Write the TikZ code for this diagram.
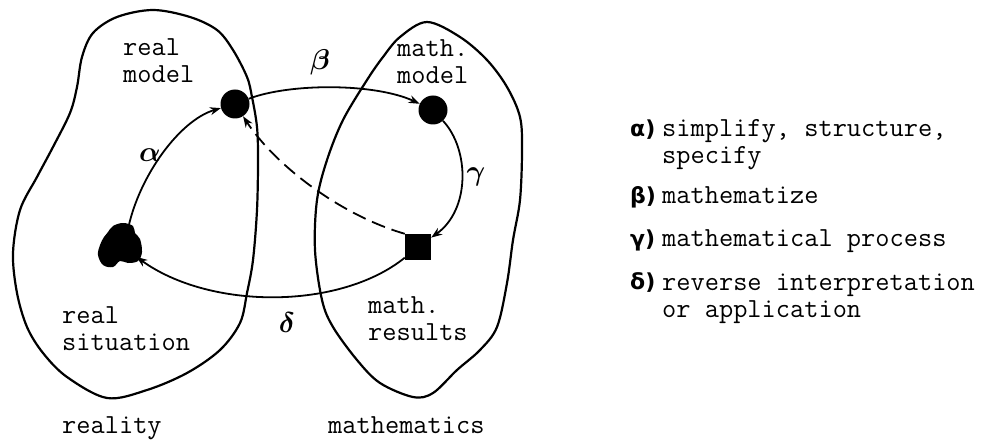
\documentclass[tikz,border=0pt]{standalone}
\usepackage{fontspec}
\newfontfamily\keyfont{DejaVu Sans}
\usetikzlibrary{arrows.meta,shapes,positioning}

\tikzset{
  region/.style={line width=2.2pt, line join=round},
  link/.style={line width=1.8pt, -{Stealth[length=11pt,width=8pt]}},
  dashlink/.style={link, dash pattern=on 14pt off 7pt},
  dot/.style={circle, fill, inner sep=0pt, minimum size=29pt},
  sqnode/.style={rectangle, fill, inner sep=0pt, minimum size=26pt},
  txt/.style={font=\ttfamily\fontsize{27.6}{27}\selectfont, align=left, inner sep=0pt, anchor=base west},
  greek/.style={font=\Huge\boldmath, inner sep=0pt, scale=1.15},
  keylbl/.style={font=\keyfont\bfseries\fontsize{22}{22}\selectfont, inner sep=0pt, anchor=base west},
}

\begin{document}
\begin{tikzpicture}[x=1pt,y=1pt]
  \useasboundingbox (0,0) rectangle (987,445);

  % reality and mathematics
  \draw[region] plot[smooth cycle, tension=0.55] coordinates {
    (153,435) (190,428) (217,415) (233,395) (247,368) (252,348) (257,318)
    (258,285) (257,235) (253,185) (247,152) (240,122) (220,95) (187,72)
    (147,55) (107,47) (67,68) (43,92) (27,118) (17,152) (13,192) (20,235)
    (37,268) (53,298) (70,332) (77,358) (82,388) (93,412) (117,428)};
  \draw[region] plot[smooth cycle, tension=0.55] coordinates {
    (427,423) (460,408) (487,385) (507,358) (520,328) (522,295) (520,245)
    (513,205) (507,162) (497,118) (480,95) (457,75) (433,52) (413,48)
    (380,62) (357,85) (333,118) (322,145) (315,195) (317,245) (327,285)
    (343,325) (367,365) (383,388) (400,408)};

  % stations
  \node[dot] (realmodel) at (235,341) {};
  \node[dot] (mathmodel) at (433,335) {};
  \node[sqnode] (mathres) at (418,198) {};
  \node[circle, inner sep=0pt, minimum size=40pt] (realsit) at (120,200) {};
  \fill plot[smooth cycle, tension=0.6] coordinates {
    (113,219) (123,222) (133,219) (135,212) (140,206) (142,193) (138,184)
    (128,182) (120,184) (113,178) (103,180) (98,190) (100,200) (104,208)
    (108,213)};

  % cycle
  \draw[link] (realsit.65) .. controls (140,270) and (180,325) .. (realmodel);
  \draw[link] (realmodel) .. controls (290,362) and (375,362) .. (mathmodel);
  \draw[link] (mathmodel) .. controls (470,295) and (470,235) .. (mathres);
  \draw[link] (mathres) .. controls (340,135) and (210,135) .. (realsit);
  \draw[dashlink] (mathres.north west) .. controls (340,230) and (275,280) .. (realmodel);

  \node[greek] (alpha) at (150,290) {$\alpha$};
  \node[greek] (beta) at (320,383) {$\beta$};
  \node[greek] (gamma) at (476,268) {$\gamma$};
  \node[greek] (delta) at (287,122) {$\delta$};

  % labels
  \node[txt] (rmlbl) at (123,362) {real\\model};
  \node[txt] (mmlbl) at (397,361) {math.\\model};
  \node[txt] (rslbl) at (62,95) {real\\situation};
  \node[txt] (mrlbl) at (368,105) {math.\\results};
  \node[txt] (reality) at (62,12) {reality};
  \node[txt] (maths) at (328,12) {mathematics};

  % legend
  \node[keylbl] (ka) at (630,308) {α)};
  \node[txt] (ta) at (662,281) {simplify, structure,\\specify};
  \node[keylbl] (kb) at (630,241) {β)};
  \node[txt] (tb) at (662,241) {mathematize};
  \node[keylbl] (kc) at (630,199) {γ)};
  \node[txt] (tc) at (662,199) {mathematical process};
  \node[keylbl] (kd) at (630,156) {δ)};
  \node[txt] (td) at (662,128) {reverse interpretation\\or application};
\end{tikzpicture}
\end{document}
